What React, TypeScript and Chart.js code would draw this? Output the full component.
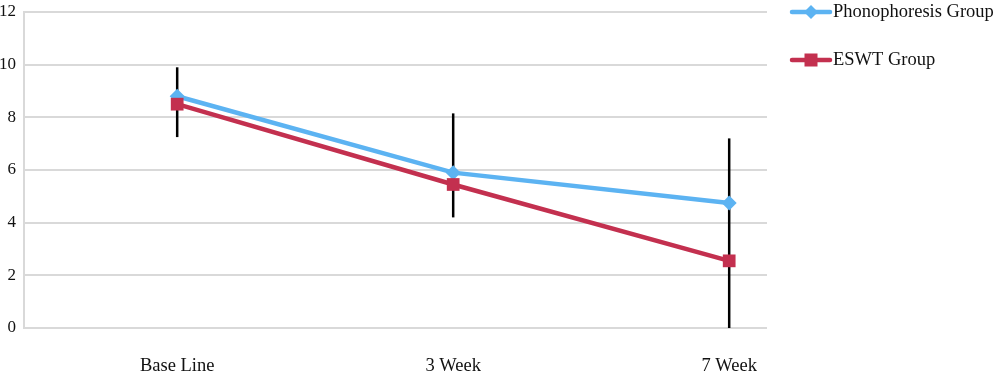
import React, { useEffect, useRef } from "react";
import { Chart, registerables } from "chart.js";

Chart.register(...registerables);

const categories = ["Base Line", "3 Week", "7 Week"];
const seriesNames = ["Phonophoresis Group", "ESWT Group"];
const phonoValues = [8.8, 5.9, 4.75];
const eswtValues = [8.5, 5.45, 2.55];
const errorUpper = [9.9, 8.15, 7.2];
const errorLower = [7.25, 4.2, 0];
const yTicks = [0, 2, 4, 6, 8, 10, 12];

const BLUE = "#5cb3f2";
const RED = "#c3304f";
const FONT = "'Liberation Serif', serif";

const errorBarPlugin = {
  id: "errorBars",
  beforeDatasetsDraw(chart: any) {
    const { ctx, scales } = chart;
    ctx.save();
    ctx.strokeStyle = "#000";
    ctx.lineWidth = 2.5;
    categories.forEach((_, i) => {
      const x = scales.x.getPixelForValue(i);
      ctx.beginPath();
      ctx.moveTo(x, scales.y.getPixelForValue(errorUpper[i]));
      ctx.lineTo(x, scales.y.getPixelForValue(errorLower[i]));
      ctx.stroke();
    });
    ctx.restore();
  },
};

const legendPlugin = {
  id: "customLegend",
  afterDraw(chart: any) {
    const { ctx } = chart;
    const items = [
      { label: seriesNames[0], color: BLUE, shape: "diamond", y: 12 },
      { label: seriesNames[1], color: RED, shape: "square", y: 60 },
    ];
    ctx.save();
    items.forEach((it) => {
      ctx.strokeStyle = it.color;
      ctx.lineWidth = 4.5;
      ctx.lineCap = "round";
      ctx.beginPath();
      ctx.moveTo(792, it.y);
      ctx.lineTo(830, it.y);
      ctx.stroke();
      ctx.fillStyle = it.color;
      const cx = 811;
      if (it.shape === "diamond") {
        ctx.beginPath();
        ctx.moveTo(cx, it.y - 7);
        ctx.lineTo(cx + 7, it.y);
        ctx.lineTo(cx, it.y + 7);
        ctx.lineTo(cx - 7, it.y);
        ctx.closePath();
        ctx.fill();
      } else {
        ctx.fillRect(cx - 6.5, it.y - 6.5, 13, 13);
      }
      ctx.fillStyle = "#111";
      ctx.font = "18.5px " + FONT;
      ctx.textBaseline = "middle";
      ctx.textAlign = "left";
      ctx.fillText(it.label, 833, it.y);
    });
    ctx.restore();
  },
};

export default function App() {
  const ref = useRef<HTMLCanvasElement>(null);
  useEffect(() => {
    if (!ref.current) return;
    const chart = new Chart(ref.current, {
      type: "line",
      data: {
        datasets: [
          {
            label: seriesNames[1],
            data: eswtValues.map((v, i) => ({ x: i, y: v })),
            borderColor: RED,
            backgroundColor: RED,
            borderWidth: 4.5,
            pointStyle: "rect",
            pointRadius: 9,
            pointBorderWidth: 0,
            order: 1,
          },
          {
            label: seriesNames[0],
            data: phonoValues.map((v, i) => ({ x: i, y: v })),
            borderColor: BLUE,
            backgroundColor: BLUE,
            borderWidth: 4.5,
            pointStyle: "rectRot",
            pointRadius: 7.5,
            pointBorderWidth: 0,
            order: 2,
          },
        ],
      },
      options: {
        animation: false,
        responsive: false,
        layout: { padding: { top: 12, right: 233, left: 0, bottom: 0 } },
        plugins: { legend: { display: false }, tooltip: { enabled: false } },
        scales: {
          x: {
            type: "linear",
            min: -0.555,
            max: 2.137,
            afterBuildTicks: (scale: any) => {
              scale.ticks = categories.map((_, i) => ({ value: i }));
            },
            afterFit: (scale: any) => {
              scale.height = 45;
            },
            grid: { display: false },
            border: { display: false },
            ticks: {
              padding: 19,
              color: "#111",
              font: { family: FONT, size: 18.5 },
              callback: (v: any) => categories[v] ?? "",
            },
          },
          y: {
            min: 0,
            max: 12,
            afterBuildTicks: (scale: any) => {
              scale.ticks = yTicks.map((v) => ({ value: v }));
            },
            afterFit: (scale: any) => {
              scale.width = 24;
              scale.paddingTop = 0;
              scale.paddingBottom = 0;
            },
            grid: { color: "#d9d9d9", lineWidth: 2, drawTicks: false },
            border: { display: true, color: "#d9d9d9", width: 2 },
            ticks: {
              padding: 8,
              color: "#111",
              font: { family: FONT, size: 17 },
            },
          },
        },
      },
      plugins: [errorBarPlugin, legendPlugin],
    });
    return () => chart.destroy();
  }, []);
  return (
    <div style={{ position: "fixed", left: 0, top: 0, width: 1000, height: 373, background: "#fff" }}>
      <canvas ref={ref} width={1000} height={373} style={{ width: 1000, height: 373 }} />
    </div>
  );
}
